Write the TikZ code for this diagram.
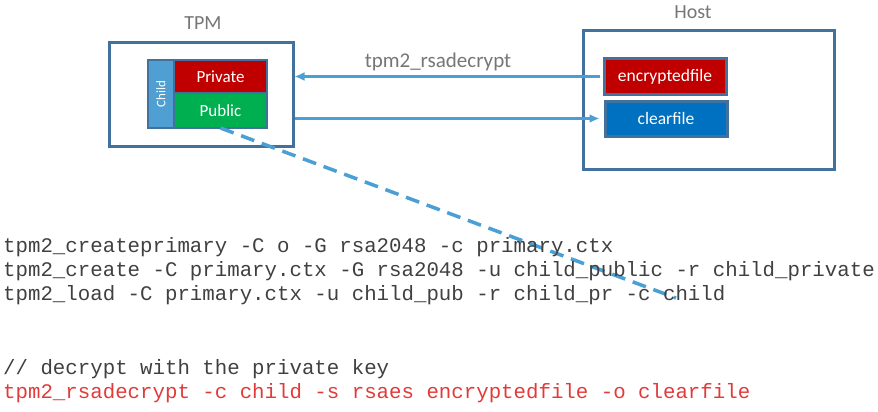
\documentclass[tikz,border=0pt]{standalone}
\usepackage{fontspec}
\setmainfont{Carlito}
\newfontfamily\codefont{Liberation Mono}
\usetikzlibrary{arrows.meta}

\definecolor{edgeblue}{RGB}{65,113,156}
\definecolor{arrowblue}{RGB}{74,159,213}
\definecolor{childblue}{RGB}{79,159,211}
\definecolor{keyred}{RGB}{192,0,0}
\definecolor{keygreen}{RGB}{0,176,80}
\definecolor{fileblue}{RGB}{0,112,192}
\definecolor{labelgray}{RGB}{118,118,118}
\definecolor{codegray}{RGB}{64,64,64}
\definecolor{codered}{RGB}{226,58,58}

\tikzset{
	frame/.style={draw=edgeblue, line width=3pt, inner sep=0pt},
	keybox/.style={draw=edgeblue, line width=2.5pt, text=white, inner sep=0pt, outer sep=0pt,
		minimum width=93pt, font=\fontsize{17}{20}\selectfont},
	filebox/.style={draw=edgeblue, line width=3pt, text=white, inner sep=0pt,
		minimum width=122pt, minimum height=35pt, font=\fontsize{17.5}{20}\selectfont},
	title/.style={text=labelgray, inner sep=0pt, font=\fontsize{20}{24}\selectfont},
	flow/.style={draw=arrowblue, line width=2.5pt, -{Latex[length=10pt,width=9pt]}},
	codeline/.style={anchor=base west, inner sep=0pt, text=codegray,
		font=\codefont\fontsize{20.75}{24.4}\selectfont}
}

\begin{document}
\begin{tikzpicture}[x=1pt, y=-1pt]
	\useasboundingbox (0,0) rectangle (878,412);

	% TPM side
	\node[frame, minimum width=184pt, minimum height=103pt] (tpm) at (201,94.5) {};
	\node[title] (tpmlabel) at (203,23) {TPM};
	\node[draw=edgeblue, line width=2.5pt, fill=childblue, inner sep=0pt, outer sep=0pt,
		minimum width=26pt, minimum height=68pt] (child) at (161,94) {};
	\node[rotate=90, text=white, font=\fontsize{13}{15}\selectfont] (childlabel) at (child) {Child};
	\node[keybox, fill=keyred, minimum height=33pt, anchor=north west] (priv) at (child.north east) {Private};
	\node[keybox, fill=keygreen, minimum height=35pt, anchor=north] (pub) at (priv.south) {Public};

	% host side
	\node[frame, minimum width=251pt, minimum height=138pt] (host) at (708.5,100) {};
	\node[title] (hostlabel) at (693,12) {Host};
	\node[filebox, fill=keyred] (enc) at (665,76.5) {encryptedfile};
	\node[filebox, fill=fileblue] (clear) at (666,118.5) {clearfile};

	% connectors
	\draw[flow, shorten <=3pt] (enc.west) -- (enc.west -| tpm.east);
	\draw[flow, shorten >=4pt] (clear.west -| tpm.east) -- (clear.west);
	\node[title, anchor=base, font=\fontsize{21}{24}\selectfont] (cmdlabel) at (438,67.3) {tpm2\_rsadecrypt};
	\coordinate (dashend) at (676,298);
	\draw[arrowblue, line width=3.5pt, dash pattern=on 14pt off 8pt] (pub.south) -- (dashend);

	% commands
	\node[codeline] (line1) at (3,252.3) {tpm2\_createprimary -C o -G rsa2048 -c primary.ctx};
	\node[codeline] (line2) at (3,276.5) {tpm2\_create -C primary.ctx -G rsa2048 -u child\_public -r child\_private};
	\node[codeline] (line3) at (3,300.7) {tpm2\_load -C primary.ctx -u child\_pub -r child\_pr -c child};
	\node[codeline] (note) at (3,374.5) {// decrypt with the private key};
	\node[codeline, text=codered] (line4) at (3,398.8) {tpm2\_rsadecrypt -c child -s rsaes encryptedfile -o clearfile};
\end{tikzpicture}
\end{document}
